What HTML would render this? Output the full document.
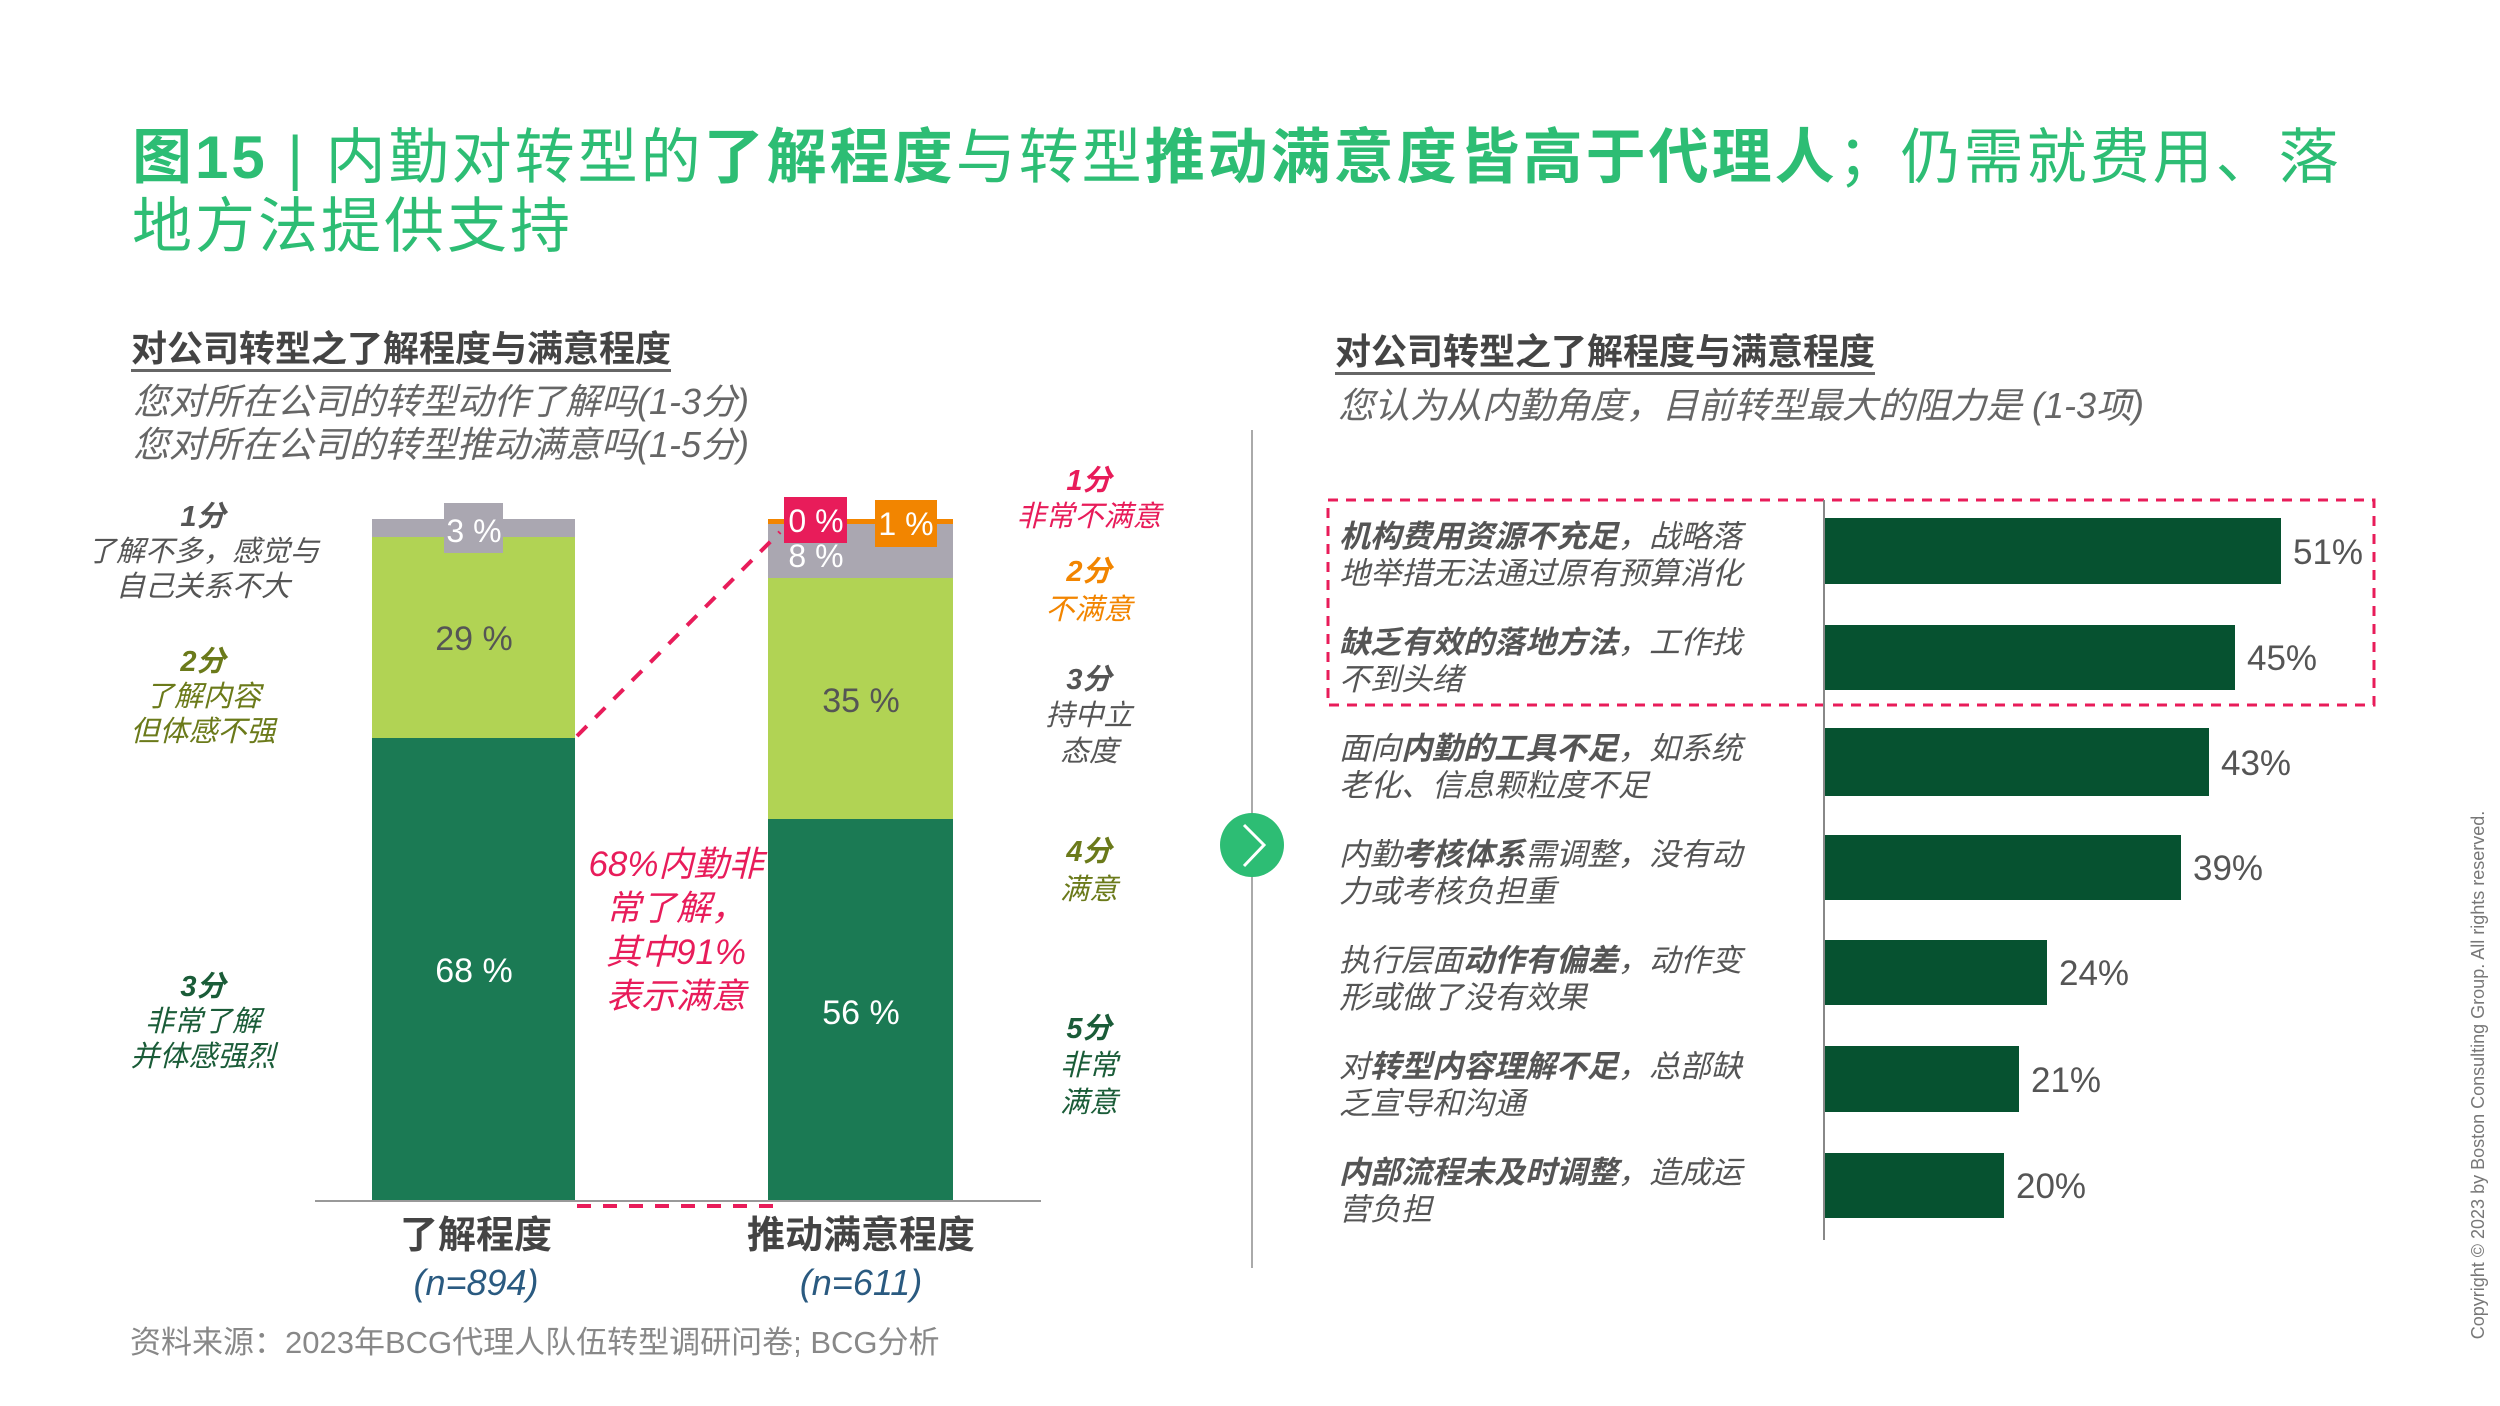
<!DOCTYPE html>
<html><head><meta charset="utf-8"><style>
body{margin:0;width:2500px;height:1406px;background:#fff;position:relative;overflow:hidden;font-family:"Liberation Sans","Noto Sans CJK SC",sans-serif;}
.a{position:absolute;white-space:nowrap;line-height:1;}
.c{transform:translateX(-50%);text-align:center;}
.it{font-style:italic;}
.g{color:#2dbd74;}
</style></head><body>
<div class="a g" style="left:132px;top:128px;font-size:60px;letter-spacing:3px;">
<b>图15</b> | 内勤对转型的<b>了解程度</b>与转型<b>推动满意度皆高于代理人</b>；仍需就费用、落</div>
<div class="a g" style="left:132px;top:197px;font-size:60px;letter-spacing:3px;">地方法提供支持</div>

<div class="a" style="left:131px;top:331px;font-size:36px;color:#444;font-weight:bold;border-bottom:3px solid #666;padding-bottom:2px;">对公司转型之了解程度与满意程度</div>
<div class="a it" style="left:133px;top:384px;font-size:36px;color:#666;">您对所在公司的转型动作了解吗(1-3分)</div>
<div class="a it" style="left:133px;top:427px;font-size:36px;color:#666;">您对所在公司的转型推动满意吗(1-5分)</div>

<div class="a" style="left:1335px;top:334px;font-size:36px;color:#444;font-weight:bold;border-bottom:3px solid #666;padding-bottom:2px;">对公司转型之了解程度与满意程度</div>
<div class="a it" style="left:1338px;top:388px;font-size:36px;color:#666;">您认为从内勤角度，目前转型最大的阻力是 (1-3项)</div>

<svg class="a" style="left:0;top:0" width="2500" height="1406">
<rect x="372" y="519" width="203" height="19" fill="#aaa7b1"/>
<rect x="372" y="537" width="203" height="202" fill="#b1d354"/>
<rect x="372" y="738" width="203" height="462" fill="#1b7a54"/>
<rect x="768" y="519" width="185" height="6" fill="#f28500"/>
<rect x="768" y="524" width="185" height="55" fill="#aaa7b1"/>
<rect x="768" y="578" width="185" height="242" fill="#b1d354"/>
<rect x="768" y="819" width="185" height="381" fill="#1b7a54"/>
<rect x="444" y="503" width="59" height="50" fill="#aaa7b1"/>
<line x1="315" y1="1201" x2="1041" y2="1201" stroke="#999" stroke-width="2"/>
<line x1="577" y1="736" x2="780" y2="532" stroke="#e81c5a" stroke-width="4" stroke-dasharray="14,12"/>
<line x1="577" y1="1206" x2="780" y2="1206" stroke="#e81c5a" stroke-width="4" stroke-dasharray="14,12"/>
<rect x="784" y="497" width="63" height="46" fill="#e81c5a"/>
<rect x="875" y="500" width="62" height="47" fill="#f28500"/>
<line x1="1252" y1="430" x2="1252" y2="1268" stroke="#aaa" stroke-width="2"/>
<circle cx="1252" cy="845" r="32" fill="#2dbd74"/>
<polyline points="1244,825 1264,845 1244,866" fill="none" stroke="#fff" stroke-width="3"/>
<rect x="1328" y="500" width="1046" height="205" fill="none" stroke="#e81c5a" stroke-width="3" stroke-dasharray="10,8"/>
<line x1="1824" y1="500" x2="1824" y2="1240" stroke="#888" stroke-width="2"/>
<g fill="#065230">
<rect x="1825" y="518" width="456" height="66"/>
<rect x="1825" y="625" width="410" height="65"/>
<rect x="1825" y="728" width="384" height="68"/>
<rect x="1825" y="835" width="356" height="65"/>
<rect x="1825" y="940" width="222" height="65"/>
<rect x="1825" y="1046" width="194" height="66"/>
<rect x="1825" y="1153" width="179" height="65"/>
</g>
</svg>

<div class="a c" style="left:474px;top:515px;font-size:32px;color:#fff;">3 %</div>
<div class="a c" style="left:474px;top:622px;font-size:34px;color:#555;">29 %</div>
<div class="a c" style="left:474px;top:954px;font-size:34px;color:#fff;">68 %</div>
<div class="a c" style="left:816px;top:505px;font-size:32px;color:#fff;">0 %</div>
<div class="a c" style="left:906px;top:508px;font-size:32px;color:#fff;">1 %</div>
<div class="a c" style="left:816px;top:540px;font-size:32px;color:#fff;">8 %</div>
<div class="a c" style="left:861px;top:684px;font-size:34px;color:#555;">35 %</div>
<div class="a c" style="left:861px;top:996px;font-size:34px;color:#fff;">56 %</div>

<div class="a c" style="left:476px;top:1217px;font-size:38px;color:#444;font-weight:bold;">了解程度</div>
<div class="a c it" style="left:476px;top:1265px;font-size:36px;color:#2a5a80;">(n=894)</div>
<div class="a c" style="left:861px;top:1217px;font-size:38px;color:#444;font-weight:bold;">推动满意程度</div>
<div class="a c it" style="left:861px;top:1265px;font-size:36px;color:#2a5a80;">(n=611)</div>
<div class="a" style="left:130px;top:1327px;font-size:31px;color:#888;">资料来源：2023年BCG代理人队伍转型调研问卷; BCG分析</div>

<div class="a c it" style="left:203px;top:500px;font-size:29px;color:#555;line-height:35px;"><b>1分</b><br>了解不多，感觉与<br>自己关系不大</div>
<div class="a c it" style="left:203px;top:645px;font-size:29px;color:#6b7a1a;line-height:35px;"><b>2分</b><br>了解内容<br>但体感不强</div>
<div class="a c it" style="left:203px;top:970px;font-size:29px;color:#1a5c38;line-height:35px;"><b>3分</b><br>非常了解<br>并体感强烈</div>
<div class="a c it" style="left:676px;top:843px;font-size:35px;color:#e81c5a;line-height:44px;">68%内勤非<br>常了解，<br>其中91%<br>表示满意</div>

<div class="a c it" style="left:1089px;top:463px;font-size:29px;color:#e81c5a;line-height:36px;"><b>1分</b><br>非常不满意</div>
<div class="a c it" style="left:1089px;top:553px;font-size:29px;color:#f28500;line-height:38px;"><b>2分</b><br>不满意</div>
<div class="a c it" style="left:1089px;top:662px;font-size:29px;color:#555;line-height:36px;"><b>3分</b><br>持中立<br>态度</div>
<div class="a c it" style="left:1089px;top:833px;font-size:29px;color:#6b7a1a;line-height:38px;"><b>4分</b><br>满意</div>
<div class="a c it" style="left:1089px;top:1011px;font-size:29px;color:#1a5c38;line-height:37px;"><b>5分</b><br>非常<br>满意</div>

<div class="a it" style="left:1339px;top:518px;font-size:31px;color:#555;line-height:37px;"><b>机构费用资源不充足</b>，战略落<br>地举措无法通过原有预算消化</div>
<div class="a it" style="left:1339px;top:624px;font-size:31px;color:#555;line-height:37px;"><b>缺乏有效的落地方法</b>，工作找<br>不到头绪</div>
<div class="a it" style="left:1339px;top:730px;font-size:31px;color:#555;line-height:37px;">面向<b>内勤的工具不足</b>，如系统<br>老化、信息颗粒度不足</div>
<div class="a it" style="left:1339px;top:836px;font-size:31px;color:#555;line-height:37px;">内勤<b>考核体系</b>需调整，没有动<br>力或考核负担重</div>
<div class="a it" style="left:1339px;top:942px;font-size:31px;color:#555;line-height:37px;">执行层面<b>动作有偏差</b>，动作变<br>形或做了没有效果</div>
<div class="a it" style="left:1339px;top:1048px;font-size:31px;color:#555;line-height:37px;">对<b>转型内容理解不足</b>，总部缺<br>乏宣导和沟通</div>
<div class="a it" style="left:1339px;top:1154px;font-size:31px;color:#555;line-height:37px;"><b>内部流程未及时调整</b>，造成运<br>营负担</div>

<div class="a" style="left:2293px;top:535px;font-size:35px;color:#555;">51%</div>
<div class="a" style="left:2247px;top:641px;font-size:35px;color:#555;">45%</div>
<div class="a" style="left:2221px;top:746px;font-size:35px;color:#555;">43%</div>
<div class="a" style="left:2193px;top:851px;font-size:35px;color:#555;">39%</div>
<div class="a" style="left:2059px;top:956px;font-size:35px;color:#555;">24%</div>
<div class="a" style="left:2031px;top:1063px;font-size:35px;color:#555;">21%</div>
<div class="a" style="left:2016px;top:1169px;font-size:35px;color:#555;">20%</div>

<div class="a" style="left:2478px;top:1075px;font-size:18px;color:#777;transform:translate(-50%,-50%) rotate(-90deg);">Copyright © 2023 by Boston Consulting Group. All rights reserved.</div>
</body></html>
